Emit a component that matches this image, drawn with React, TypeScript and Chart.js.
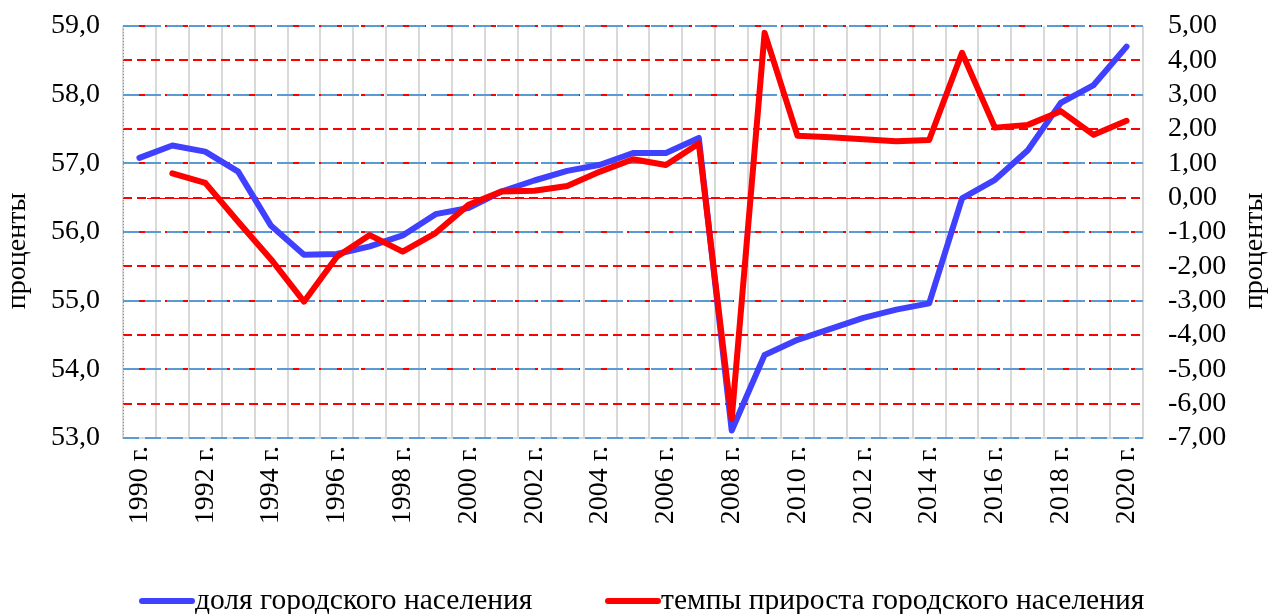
import React, { useEffect, useRef } from 'react';
import { Chart, registerables } from 'chart.js';

Chart.register(...registerables);

const years = [
  '1990 г.', '1991 г.', '1992 г.', '1993 г.', '1994 г.', '1995 г.', '1996 г.', '1997 г.',
  '1998 г.', '1999 г.', '2000 г.', '2001 г.', '2002 г.', '2003 г.', '2004 г.', '2005 г.',
  '2006 г.', '2007 г.', '2008 г.', '2009 г.', '2010 г.', '2011 г.', '2012 г.', '2013 г.',
  '2014 г.', '2015 г.', '2016 г.', '2017 г.', '2018 г.', '2019 г.', '2020 г.',
];

const urbanShare = [
  57.08, 57.26, 57.17, 56.88, 56.09, 55.67, 55.68, 55.79, 55.95, 56.26, 56.35,
  56.59, 56.75, 56.89, 56.98, 57.15, 57.15, 57.37, 53.11, 54.21, 54.43, 54.59,
  54.75, 54.87, 54.96, 56.49, 56.76, 57.19, 57.88, 58.14, 58.70,
];

const urbanGrowth = [
  null, 0.71, 0.43, -0.70, -1.80, -3.03, -1.72, -1.09, -1.57, -1.03, -0.21,
  0.18, 0.20, 0.34, 0.76, 1.12, 0.95, 1.58, -6.45, 4.80, 1.80, 1.76,
  1.70, 1.64, 1.68, 4.22, 2.04, 2.12, 2.52, 1.83, 2.24,
];

const seriesNames = ['доля городского населения', 'темпы прироста городского населения'];
const axisTitle = 'проценты';

const BLUE = '#4040FF';
const RED = '#FF0000';
const GRID_BLUE = '#5B9BD5';
const GRID_GRAY = '#D9D9D9';
const FONT = "'Liberation Serif', 'Times New Roman', serif";
const FS = 28;
const LEGEND_FS = 29.5;

const decorPlugin = {
  id: 'decor',
  beforeDatasetsDraw(chart: any) {
    const { ctx, chartArea, scales } = chart;
    ctx.save();
    ctx.strokeStyle = GRID_BLUE;
    ctx.lineWidth = 1;
    ctx.setLineDash([1, 2]);
    ctx.beginPath();
    ctx.moveTo(chartArea.left + 0.5, chartArea.top);
    ctx.lineTo(chartArea.left + 0.5, chartArea.bottom);
    ctx.stroke();
    const y0 = Math.round(scales.y1.getPixelForValue(0)) + 0.5;
    ctx.setLineDash([]);
    ctx.strokeStyle = RED;
    ctx.lineWidth = 1;
    ctx.beginPath();
    ctx.moveTo(chartArea.left + 24, y0);
    ctx.lineTo(chartArea.right - 20, y0);
    ctx.stroke();
    ctx.restore();
  },
  afterDraw(chart: any) {
    const { ctx, width, chartArea } = chart;
    ctx.save();
    ctx.font = `${FS}px ${FONT}`;
    ctx.fillStyle = '#000';
    ctx.textBaseline = 'middle';
    ctx.textAlign = 'center';
    const midY = (chartArea.top + chartArea.bottom) / 2 + 19;
    ctx.save();
    ctx.translate(18, midY);
    ctx.rotate(-Math.PI / 2);
    ctx.fillText(axisTitle, 0, 0);
    ctx.restore();
    ctx.save();
    ctx.translate(width - 16, midY);
    ctx.rotate(-Math.PI / 2);
    ctx.fillText(axisTitle, 0, 0);
    ctx.restore();

    // legend
    ctx.font = `${LEGEND_FS}px ${FONT}`;
    const colors = [BLUE, RED];
    const starts = [139, 605];
    const lineW = 56;
    const ly = 601;
    ctx.textAlign = 'left';
    starts.forEach((x, i) => {
      ctx.strokeStyle = colors[i];
      ctx.lineWidth = 6;
      ctx.lineCap = 'round';
      ctx.beginPath();
      ctx.moveTo(x + 3, ly);
      ctx.lineTo(x + lineW - 3, ly);
      ctx.stroke();
      ctx.fillText(seriesNames[i], x + lineW, ly);
    });
    ctx.restore();
  },
};

const noVPad = (w: number) => (s: any) => {
  s.width = w;
  s.paddingTop = 0;
  s.paddingBottom = 0;
};

export default function App() {
  const ref = useRef<HTMLCanvasElement>(null);

  useEffect(() => {
    if (!ref.current) return;
    const chart = new Chart(ref.current, {
      type: 'line',
      data: {
        labels: years,
        datasets: [
          {
            label: seriesNames[0],
            data: urbanShare,
            yAxisID: 'y',
            borderColor: BLUE,
            backgroundColor: BLUE,
            borderWidth: 6,
            pointRadius: 0,
            tension: 0,
            borderJoinStyle: 'round',
            borderCapStyle: 'round',
            order: 1,
          },
          {
            label: seriesNames[1],
            data: urbanGrowth,
            yAxisID: 'y1',
            borderColor: RED,
            backgroundColor: RED,
            borderWidth: 6,
            pointRadius: 0,
            tension: 0,
            borderJoinStyle: 'round',
            borderCapStyle: 'round',
            order: 0,
          },
        ],
      },
      options: {
        animation: false,
        responsive: true,
        maintainAspectRatio: false,
        layout: { padding: { top: 26, left: 0, right: 0, bottom: 76 } },
        plugins: {
          legend: { display: false },
          tooltip: { enabled: false },
        },
        scales: {
          x: {
            offset: true,
            grid: { offset: true, color: GRID_GRAY, lineWidth: 2, drawTicks: false },
            border: { display: true, color: GRID_GRAY, width: 2 },
            ticks: {
              autoSkip: false,
              maxRotation: 90,
              minRotation: 90,
              padding: 8,
              color: '#000',
              font: { family: FONT, size: FS },
              callback: (_v: any, i: number) => (i % 2 === 0 ? years[i] : ''),
            },
            afterFit: (s: any) => {
              s.height = 100;
              s.paddingLeft = 0;
              s.paddingRight = 0;
            },
          },
          y: {
            position: 'left',
            min: 53,
            max: 59,
            ticks: {
              stepSize: 1,
              autoSkip: false,
              padding: 23,
              color: '#000',
              font: { family: FONT, size: FS },
              callback: (v: any) => Number(v).toFixed(1).replace('.', ','),
            },
            grid: { color: GRID_BLUE, lineWidth: 2, drawTicks: false, z: 0 },
            border: { display: false, dash: [16, 6] },
            afterFit: noVPad(123),
          },
          y1: {
            position: 'right',
            min: -7,
            max: 5,
            ticks: {
              stepSize: 1,
              autoSkip: false,
              padding: 25,
              color: '#000',
              font: { family: FONT, size: FS },
              callback: (v: any) => Number(v).toFixed(2).replace('.', ','),
            },
            grid: { color: RED, lineWidth: 2, drawTicks: false, z: -1 },
            border: { display: false, dash: [9, 5] },
            afterFit: noVPad(128),
          },
        },
      },
      plugins: [decorPlugin],
    } as any);
    return () => chart.destroy();
  }, []);

  return (
    <div style={{ position: 'fixed', left: 0, top: 0, width: 1271, height: 614, background: '#fff' }}>
      <canvas ref={ref} />
    </div>
  );
}
